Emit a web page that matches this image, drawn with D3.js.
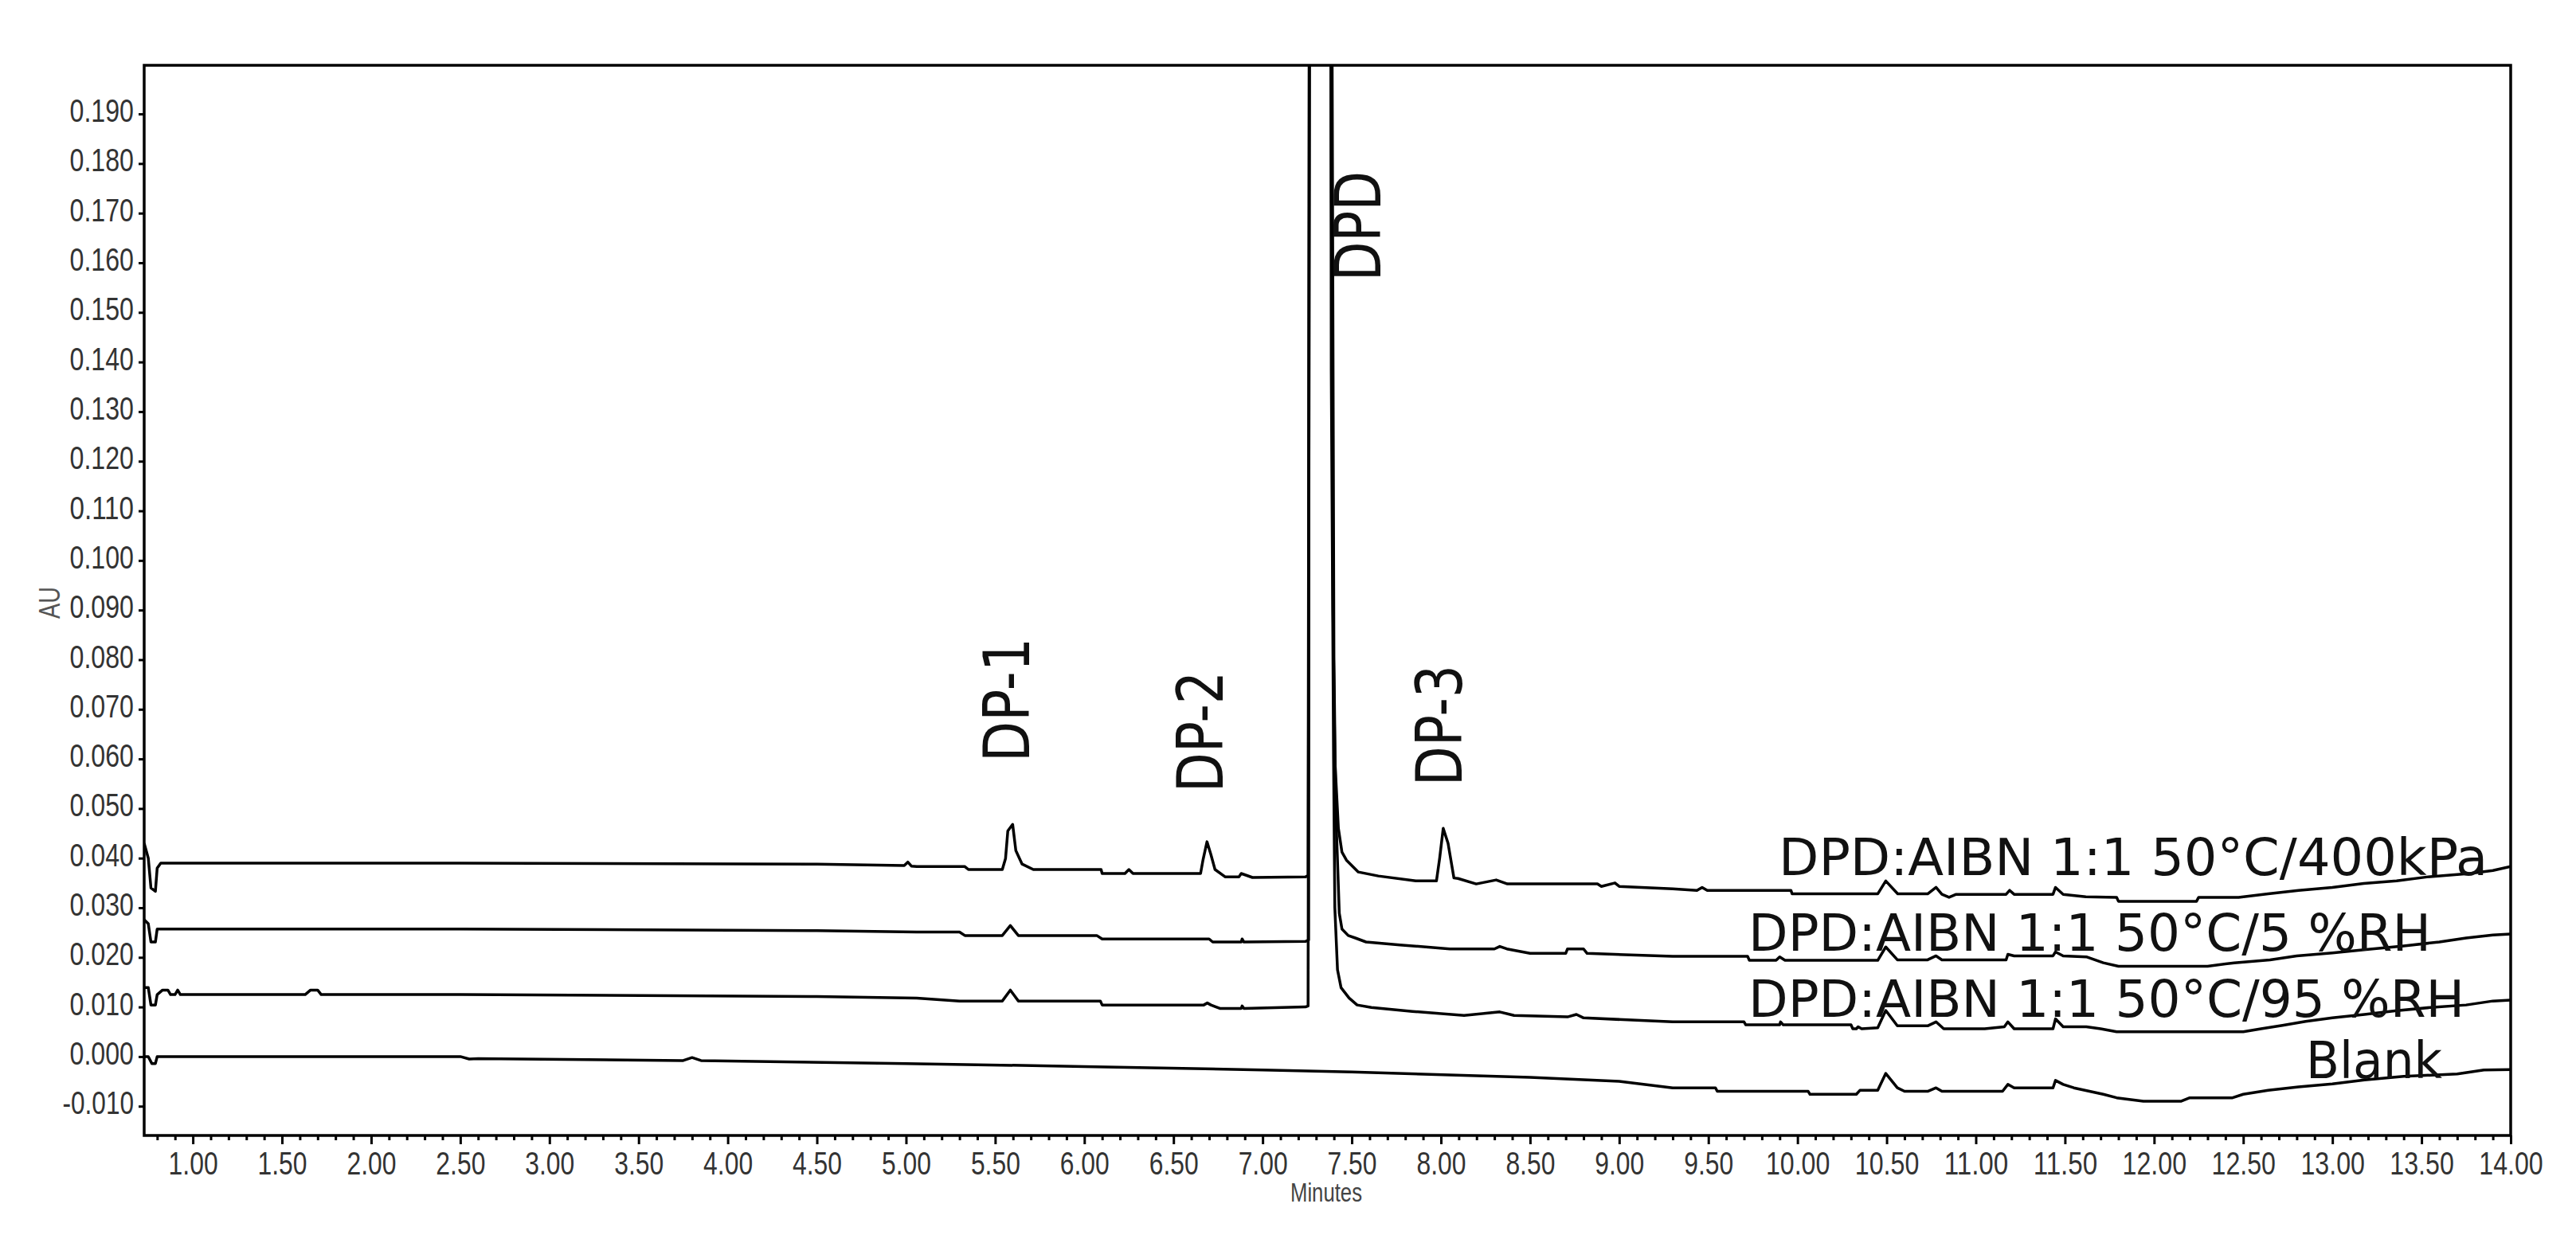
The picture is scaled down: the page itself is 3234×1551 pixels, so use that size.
<!DOCTYPE html>
<html>
<head>
<meta charset="utf-8">
<script src="https://cdn.jsdelivr.net/npm/d3@7"></script>
<style>
  body { margin: 0; background: #fff; }
  svg { display: block; }
</style>
</head>
<body>
<div id="chart"></div>
<script>
// chromatogram traces, [minutes, AU]
// (the DPD main peak runs off scale, its apex value is a guess)
const traceNames = ['DPD:AIBN 1:1 50°C/400kPa', 'DPD:AIBN 1:1 50°C/5 %RH', 'DPD:AIBN 1:1 50°C/95 %RH', 'Blank'];

const s400 = [
  [0.727,0.0430],[0.750,0.0400],[0.765,0.0340],[0.790,0.0333],[0.800,0.0380],[0.820,0.0390],
  [2.50,0.0390],[4.50,0.0388],[4.99,0.0385],[5.01,0.0392],[5.03,0.0384],[5.06,0.0383],
  [5.33,0.0383],[5.35,0.0377],[5.54,0.0377],[5.558,0.0399],[5.571,0.0455],[5.598,0.0468],[5.616,0.0415],[5.651,0.0388],[5.714,0.0377],
  [6.094,0.0377],[6.10,0.0369],[6.228,0.0369],[6.25,0.0377],[6.273,0.0369],[6.652,0.0369],[6.666,0.0397],[6.688,0.0433],[6.71,0.0407],
  [6.733,0.0377],[6.791,0.0362],[6.867,0.0362],[6.88,0.0369],[6.943,0.0361],
  [7.240,0.0362],[7.255,0.0365],[7.290,0.9500],[7.370,0.9500],[7.383,0.2000],[7.395,0.0900],[7.405,0.0600],[7.425,0.0460],
  [7.445,0.0412],[7.470,0.0396],[7.537,0.0372],[7.649,0.0364],[7.859,0.0354],[7.975,0.0354],[7.993,0.0400],[8.013,0.0460],
  [8.040,0.0430],[8.073,0.0360],[8.096,0.0359],[8.198,0.0348],[8.31,0.0356],[8.373,0.0348],[8.878,0.0348],[8.90,0.0343],
  [8.976,0.0350],[9.00,0.0343],[9.30,0.0338],[9.436,0.0335],[9.465,0.0341],[9.494,0.0335],[9.963,0.0335],[9.97,0.0328],
  [10.45,0.0328],[10.495,0.0354],[10.562,0.0328],[10.73,0.0328],[10.777,0.0341],[10.81,0.0327],[10.85,0.0321],[10.89,0.0327],
  [11.17,0.0327],[11.19,0.0335],[11.215,0.0327],[11.433,0.0327],[11.447,0.0341],[11.49,0.0327],[11.617,0.0322],[11.79,0.0321],
  [11.80,0.0313],[12.238,0.0313],[12.25,0.0321],[12.474,0.0321],[12.64,0.0328],[12.81,0.0335],[13.00,0.0341],[13.176,0.0349],
  [13.36,0.0354],[13.53,0.0362],[13.77,0.0369],[13.90,0.0375],[14.00,0.0383]
];

const s5 = [
  [0.727,0.0276],[0.750,0.0268],[0.765,0.0231],[0.790,0.0231],[0.800,0.0257],[2.50,0.0257],[4.50,0.0254],[5.06,0.0251],
  [5.30,0.0251],[5.33,0.0244],[5.54,0.0244],[5.585,0.0264],[5.63,0.0244],[6.07,0.0244],[6.10,0.0237],[6.70,0.0237],
  [6.72,0.0231],[6.88,0.0231],[6.885,0.0237],[6.895,0.0231],
  [7.240,0.0232],[7.258,0.0235],[7.275,0.9500],[7.375,0.9500],[7.390,0.2000],[7.400,0.0800],[7.410,0.0500],[7.430,0.0289],
  [7.445,0.0257],[7.48,0.0244],[7.52,0.0239],[7.58,0.0231],[7.77,0.0225],[8.05,0.0217],[8.30,0.0217],[8.33,0.0222],
  [8.37,0.0217],[8.50,0.0208],[8.70,0.0208],[8.71,0.0217],[8.80,0.0217],[8.82,0.0208],[9.30,0.0202],[9.72,0.0202],
  [9.73,0.0194],[9.88,0.0194],[9.90,0.0201],[9.93,0.0194],[10.45,0.0194],[10.495,0.0221],[10.56,0.0195],[10.73,0.0195],
  [10.777,0.0203],[10.81,0.0195],[11.17,0.0195],[11.18,0.0206],[11.215,0.0203],[11.433,0.0203],[11.447,0.0211],[11.49,0.0203],
  [11.62,0.0201],[11.715,0.0189],[11.80,0.0182],[12.30,0.0182],[12.45,0.0189],[12.65,0.0195],[12.80,0.0203],[13.00,0.0209],
  [13.20,0.0216],[13.40,0.0223],[13.60,0.0231],[13.75,0.0239],[13.90,0.0245],[14.00,0.0247]
];

const s95 = [
  [0.727,0.0139],[0.750,0.0139],[0.765,0.0104],[0.790,0.0104],[0.800,0.0125],[0.83,0.0134],[0.86,0.0134],[0.875,0.0125],
  [0.90,0.0125],[0.915,0.0134],[0.93,0.0125],[1.63,0.0125],[1.66,0.0134],[1.70,0.0134],[1.72,0.0125],[2.50,0.0125],
  [4.50,0.0121],[5.06,0.0118],[5.30,0.0112],[5.54,0.0112],[5.585,0.0134],[5.63,0.0112],[6.09,0.0112],[6.10,0.0104],
  [6.67,0.0104],[6.69,0.0108],[6.71,0.0104],[6.76,0.0097],[6.88,0.0097],[6.885,0.0102],[6.895,0.0097],
  [7.240,0.0100],[7.255,0.0102],[7.262,0.1770],[7.290,0.9500],[7.360,0.9500],[7.385,0.1385],[7.398,0.0600],[7.405,0.0300],
  [7.420,0.0175],[7.440,0.0139],[7.485,0.0118],[7.530,0.0104],[7.610,0.0099],[7.84,0.0091],[8.13,0.0083],[8.33,0.0090],
  [8.41,0.0083],[8.71,0.0080],[8.76,0.0085],[8.80,0.0078],[9.30,0.0070],[9.70,0.0070],[9.71,0.0064],[9.90,0.0064],
  [9.905,0.0070],[9.92,0.0064],[10.30,0.0064],[10.31,0.0056],[10.33,0.0056],[10.34,0.0060],[10.36,0.0056],[10.45,0.0058],
  [10.495,0.0093],[10.56,0.0062],[10.73,0.0062],[10.777,0.0070],[10.82,0.0056],[11.05,0.0056],[11.16,0.0060],[11.18,0.0070],
  [11.215,0.0056],[11.433,0.0056],[11.447,0.0076],[11.49,0.0060],[11.62,0.0060],[11.70,0.0056],[11.79,0.0050],[12.50,0.0050],
  [12.60,0.0056],[12.72,0.0063],[12.85,0.0071],[13.00,0.0078],[13.18,0.0085],[13.35,0.0092],[13.55,0.0099],[13.75,0.0104],
  [13.90,0.0112],[14.00,0.0114]
];

const blank = [
  [0.727,0.0000],[0.750,0.0000],[0.770,-0.0014],[0.790,-0.0014],[0.800,0.0000],[2.50,0.0000],[2.55,-0.0005],[2.60,-0.0004],
  [3.75,-0.0008],[3.80,-0.0002],[3.85,-0.0008],[5.00,-0.0014],[6.00,-0.0020],[7.00,-0.0027],[7.50,-0.0031],[8.50,-0.0042],
  [9.00,-0.0050],[9.30,-0.0063],[9.54,-0.0063],[9.55,-0.0070],[10.06,-0.0070],[10.07,-0.0076],[10.33,-0.0076],[10.35,-0.0068],
  [10.45,-0.0068],[10.495,-0.0034],[10.56,-0.0063],[10.60,-0.0070],[10.73,-0.0070],[10.777,-0.0063],[10.81,-0.0070],[11.15,-0.0070],
  [11.18,-0.0056],[11.215,-0.0063],[11.433,-0.0063],[11.447,-0.0048],[11.49,-0.0056],[11.55,-0.0063],[11.715,-0.0076],[11.79,-0.0083],
  [11.94,-0.0090],[12.15,-0.0090],[12.20,-0.0083],[12.44,-0.0083],[12.50,-0.0076],[12.64,-0.0068],[12.81,-0.0061],[13.00,-0.0055],
  [13.18,-0.0047],[13.40,-0.0040],[13.70,-0.0035],[13.85,-0.0027],[14.00,-0.0026]
];

const peakNames = ['DP-1', 'DP-2', 'DPD', 'DP-3'];

const xTicks = [1.0,1.5,2.0,2.5,3.0,3.5,4.0,4.5,5.0,5.5,6.0,6.5,7.0,7.5,8.0,8.5,9.0,9.5,10.0,10.5,11.0,11.5,12.0,12.5,13.0,13.5,14.0];
const yTicks = [-0.010,0.000,0.010,0.020,0.030,0.040,0.050,0.060,0.070,0.080,0.090,0.100,0.110,0.120,0.130,0.140,0.150,0.160,0.170,0.180,0.190];

// layout
const W = 3234, H = 1551;
const frame = {left: 181, right: 3152, top: 82, bottom: 1426};
const tickFont = '"Liberation Sans", Arial, sans-serif';
const labelFont = '"DejaVu Sans Condensed", "DejaVu Sans", sans-serif';

// where the text labels sit: [x, y, length]
const traceLabelPos = [[2233, 1099, 890], [2195, 1194, 857], [2195, 1277, 899], [2895, 1354, 171]];
const peakLabelPos = [[1292, 957, 156], [1535, 995, 152], [1733, 353, 138], [1835, 987, 152]];

const x = d3.scaleLinear().domain([0.727, 14.0]).range([frame.left, frame.right]);
const y = d3.scaleLinear().domain([-0.0159, 0.1998]).range([frame.bottom, frame.top]);

const svg = d3.select('#chart').append('svg')
    .attr('width', W)
    .attr('height', H)
    .attr('viewBox', '0 0 ' + W + ' ' + H);

svg.append('defs').append('clipPath').attr('id', 'plot-clip')
    .append('rect')
    .attr('x', frame.left)
    .attr('y', frame.top)
    .attr('width', frame.right - frame.left)
    .attr('height', frame.bottom - frame.top);

var line = d3.line().x(d => x(d[0])).y(d => y(d[1]));

svg.append('g').attr('clip-path', 'url(#plot-clip)')
    .selectAll('path')
    .data([s400, s5, s95, blank])
    .enter()
    .append('path')
    .attr('d', line)
    .attr('fill', 'none')
    .attr('stroke', '#000')
    .attr('stroke-width', 3.5)
    .attr('stroke-linejoin', 'round');

// the instrument font is very narrow, squeeze the tick labels to its widths
function narrowWidth(s) {
    var w = 0;
    for (var c of s) w += (c === '.') ? 6.5 : (c === '-' || c === '−') ? 9 : 18.5;
    return w;
}

function styleAxis(g) {
    g.select('.domain').remove();
    g.selectAll('.tick line').attr('stroke', '#000').attr('stroke-width', 3);
    g.selectAll('.tick text')
        .attr('fill', '#333')
        .style('font-family', tickFont)
        .style('font-size', '40px')
        .attr('textLength', function () { return narrowWidth(this.textContent); })
        .attr('lengthAdjust', 'spacingAndGlyphs');
}

var minorTicks = d3.range(8, 140).map(d => d / 10).filter(d => Math.round(d * 10) % 5 !== 0);

svg.append('g')
    .attr('transform', 'translate(0,' + frame.bottom + ')')
    .call(d3.axisBottom(x).tickValues(minorTicks).tickSize(6).tickFormat(''))
    .call(g => { g.select('.domain').remove(); g.selectAll('.tick line').attr('stroke', '#000').attr('stroke-width', 3); });

svg.append('g')
    .attr('transform', 'translate(0,' + frame.bottom + ')')
    .call(d3.axisBottom(x).tickValues(xTicks).tickSize(11).tickPadding(10).tickFormat(d3.format('.2f')))
    .call(styleAxis);

svg.append('g')
    .attr('transform', 'translate(' + frame.left + ',0)')
    .call(d3.axisLeft(y).tickValues(yTicks).tickSize(7).tickPadding(6).tickFormat(d => d3.format('.3f')(d).replace('−', '-')))
    .call(styleAxis)
    .call(g => g.selectAll('.tick text').attr('dy', '0.24em'));

// frame
svg.append('rect')
    .attr('x', frame.left)
    .attr('y', frame.top)
    .attr('width', frame.right - frame.left)
    .attr('height', frame.bottom - frame.top)
    .attr('fill', 'none')
    .attr('stroke', '#000')
    .attr('stroke-width', 3.5);

// axis titles
svg.append('text')
    .attr('transform', 'translate(62,757) rotate(-90)')
    .attr('text-anchor', 'middle')
    .attr('dominant-baseline', 'central')
    .attr('fill', '#555')
    .attr('textLength', 40)
    .attr('lengthAdjust', 'spacingAndGlyphs')
    .style('font-family', tickFont)
    .style('font-size', '36px')
    .text('AU');

svg.append('text')
    .attr('x', 1665)
    .attr('y', 1509)
    .attr('text-anchor', 'middle')
    .attr('fill', '#444')
    .attr('textLength', 90)
    .attr('lengthAdjust', 'spacingAndGlyphs')
    .style('font-family', tickFont)
    .style('font-size', '34px')
    .text('Minutes');

// trace labels
svg.selectAll('text.trace-label')
    .data(traceNames)
    .enter()
    .append('text')
    .classed('trace-label', true)
    .attr('x', (d, i) => traceLabelPos[i][0])
    .attr('y', (d, i) => traceLabelPos[i][1])
    .attr('textLength', (d, i) => traceLabelPos[i][2])
    .attr('lengthAdjust', 'spacingAndGlyphs')
    .attr('fill', '#111')
    .style('font-family', labelFont)
    .style('font-size', '64px')
    .text(d => d);

// peak labels, vertical
svg.selectAll('text.peak-label')
    .data(peakNames)
    .enter()
    .append('text')
    .classed('peak-label', true)
    .attr('transform', (d, i) => 'translate(' + peakLabelPos[i][0] + ',' + peakLabelPos[i][1] + ') rotate(-90)')
    .attr('textLength', (d, i) => peakLabelPos[i][2])
    .attr('lengthAdjust', 'spacingAndGlyphs')
    .attr('fill', '#111')
    .style('font-family', labelFont)
    .style('font-size', '80px')
    .text(d => d);
</script>
</body>
</html>
